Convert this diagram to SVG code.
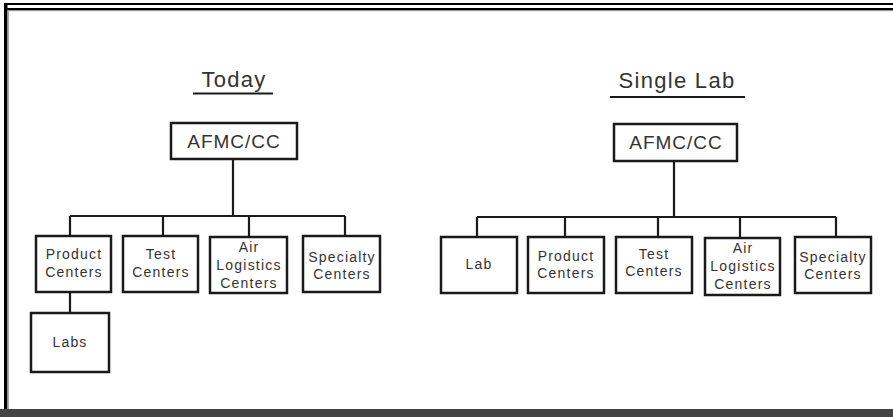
<svg xmlns="http://www.w3.org/2000/svg" width="893" height="417" viewBox="0 0 893 417">
<style>
.box{fill:#fff;stroke:#1a1a1a;stroke-width:2.5}
.ln{stroke:#1a1a1a;stroke-width:2.2;fill:none}
.t{font-family:"Liberation Sans",Arial,sans-serif;fill:#333;text-anchor:middle}
.s{font-size:14px;letter-spacing:1.2px}
.m{font-size:19px;letter-spacing:1px}
.h{font-size:22px;letter-spacing:1.3px}
</style>
<rect width="893" height="417" fill="#fff"/>
<g id="frame">
<rect x="4" y="3" width="889" height="2" fill="#000"/>
<rect x="4" y="8" width="889" height="2" fill="#000"/>
<rect x="7" y="10" width="886" height="1.2" fill="#999"/>
<rect x="4" y="3" width="3.5" height="414" fill="#000"/>
<rect x="7.5" y="10" width="1.5" height="399" fill="#aaa"/>
<rect x="0" y="409" width="893" height="8" fill="#444"/>
</g>
<g id="titles">
<text class="t h" x="234" y="87">Today</text>
<line class="ln" x1="193" y1="93.5" x2="273" y2="93.5" stroke-width="1.6"/>
<text class="t h" x="677" y="88">Single Lab</text>
<line class="ln" x1="610" y1="97" x2="745" y2="97" stroke-width="1.6"/>
</g>
<g id="connectors">
<path class="ln" d="M233 159V216M70 216H345M70 216V236M163 216V236M249 216V237M345 216V236M70 292V313"/>
<path class="ln" d="M674 161V217M477 217H836M477 217V237M565 217V237M658 217V237M740 217V238M836 217V237"/>
</g>
<g id="l-afmc"><rect class="box" x="171" y="123" width="126" height="36"/><text class="t m" x="234" y="148">AFMC/CC</text></g>
<g id="l-product"><rect class="box" x="36" y="236" width="75" height="56"/><text class="t s" x="74" y="259">Product</text><text class="t s" x="74" y="277">Centers</text></g>
<g id="l-test"><rect class="box" x="123" y="236" width="75" height="56"/><text class="t s" x="161" y="259">Test</text><text class="t s" x="161" y="277">Centers</text></g>
<g id="l-air"><rect class="box" x="210" y="237" width="77" height="56"/><text class="t s" x="249" y="252">Air</text><text class="t s" x="249" y="270">Logistics</text><text class="t s" x="249" y="288">Centers</text></g>
<g id="l-spec"><rect class="box" x="303" y="236" width="77" height="56"/><text class="t s" x="342" y="262">Specialty</text><text class="t s" x="342" y="279">Centers</text></g>
<g id="l-labs"><rect class="box" x="31" y="313" width="78" height="59"/><text class="t s" x="70" y="347">Labs</text></g>
<g id="r-afmc"><rect class="box" x="614" y="124" width="123" height="37"/><text class="t m" x="676" y="149">AFMC/CC</text></g>
<g id="r-lab"><rect class="box" x="441" y="237" width="76" height="56"/><text class="t s" x="479" y="269">Lab</text></g>
<g id="r-product"><rect class="box" x="528" y="237" width="76" height="56"/><text class="t s" x="566" y="261">Product</text><text class="t s" x="566" y="278">Centers</text></g>
<g id="r-test"><rect class="box" x="616" y="237" width="76" height="56"/><text class="t s" x="654" y="259">Test</text><text class="t s" x="654" y="276">Centers</text></g>
<g id="r-air"><rect class="box" x="705" y="238" width="75" height="57"/><text class="t s" x="743" y="253">Air</text><text class="t s" x="743" y="271">Logistics</text><text class="t s" x="743" y="289">Centers</text></g>
<g id="r-spec"><rect class="box" x="795" y="237" width="76" height="56"/><text class="t s" x="833" y="262">Specialty</text><text class="t s" x="833" y="279">Centers</text></g>
</svg>
